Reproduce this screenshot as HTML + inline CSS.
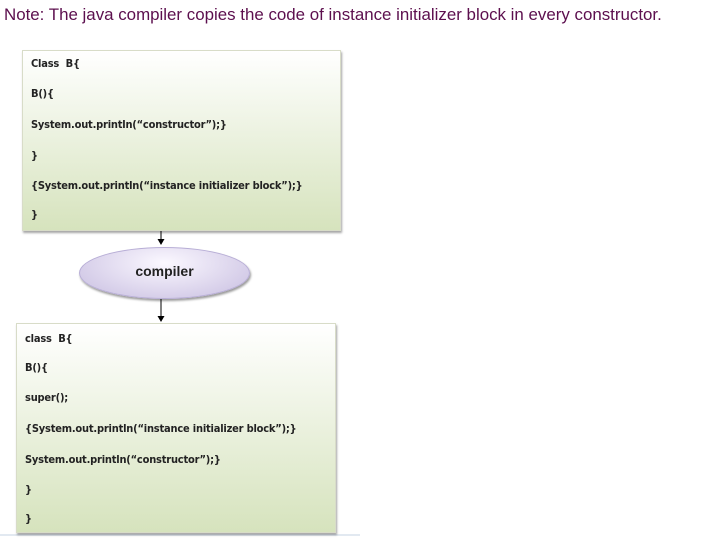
<!DOCTYPE html>
<html><head><meta charset="utf-8"><style>
body{margin:0;width:719px;height:547px;background:#fff;position:relative;overflow:hidden;font-family:"Liberation Sans",sans-serif}
.note{position:absolute;left:4px;top:5px;font-size:16.9px;color:#5c0f4e;white-space:nowrap}
.box{position:absolute;border:1px solid #d8dcc8;box-shadow:1px 2px 2px rgba(0,0,0,.35);background:linear-gradient(#ffffff,#d6e3bd)}
.box div{position:absolute;left:8px;font-size:11px;font-weight:bold;color:#222;white-space:nowrap;font-family:"DejaVu Sans Condensed","Liberation Sans Narrow","Liberation Sans",sans-serif;letter-spacing:-0.2px}
.ell{position:absolute;left:79px;top:247px;width:169px;height:50px;border-radius:50%;background:radial-gradient(ellipse at 50% 30%,#fbf8ff,#c7bde0);box-shadow:1px 2px 2px rgba(0,0,0,.4);border:1px solid #b8aed6}
.ell span{position:absolute;left:0;right:0;top:15px;text-align:center;font-weight:bold;font-size:14px;color:#222}
</style></head><body>
<div class="note">Note: The java compiler copies the code of instance initializer block in every constructor.</div>
<div class="box" style="left:22px;top:50px;width:317px;height:179px">
<div style="top:6px">Class&nbsp; B{</div>
<div style="top:36px">B(){</div>
<div style="top:67px">System.out.println(“constructor”);}</div>
<div style="top:98px">}</div>
<div style="top:128px">{System.out.println(“instance initializer block”);}</div>
<div style="top:157px">}</div>
</div>
<svg width="719" height="547" style="position:absolute;left:0;top:0">
<line x1="161" y1="231" x2="161" y2="240" stroke="#000" stroke-width="1"/>
<polygon points="157.5,239 164.5,239 161,245" fill="#000"/>
<line x1="161" y1="299" x2="161" y2="317" stroke="#000" stroke-width="1"/>
<polygon points="157.5,316 164.5,316 161,322" fill="#000"/>
<line x1="0" y1="535" x2="360" y2="535" stroke="#c5d3e3" stroke-width="1"/>
</svg>
<div class="ell"><span>compiler</span></div>
<div class="box" style="left:16px;top:323px;width:318px;height:208px">
<div style="top:8px">class&nbsp; B{</div>
<div style="top:37px">B(){</div>
<div style="top:67px">super();</div>
<div style="top:98px">{System.out.println(“instance initializer block”);}</div>
<div style="top:129px">System.out.println(“constructor”);}</div>
<div style="top:159px">}</div>
<div style="top:188px">}</div>
</div>
</body></html>
